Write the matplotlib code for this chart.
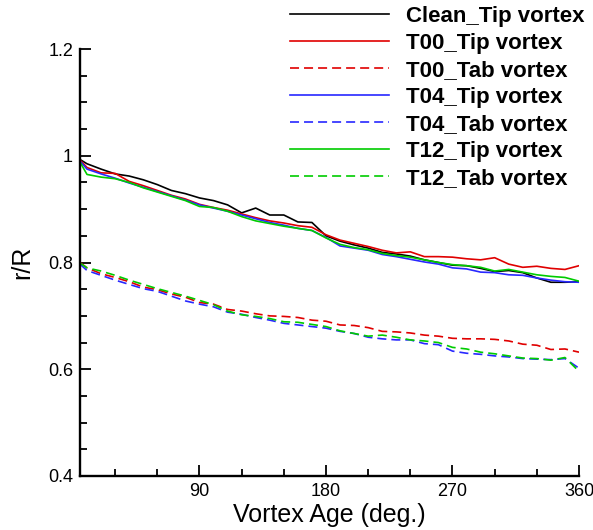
import matplotlib
matplotlib.use('Agg')
import matplotlib.pyplot as plt
from matplotlib.ticker import MultipleLocator, FormatStrFormatter

plt.rcParams['font.family'] = ['Liberation Sans', 'DejaVu Sans']
plt.rcParams['lines.scale_dashes'] = False

# vortex age (deg.)
age = [5, 10, 20, 30, 40, 50, 60, 70, 80, 90, 100, 110, 120, 130, 140, 150, 160, 170, 180,
       190, 200, 210, 220, 230, 240, 250, 260, 270, 280, 290, 300, 310, 320, 330, 340, 350, 360]

clean_tip = [0.993, 0.985, 0.975, 0.966, 0.962, 0.955, 0.946, 0.935, 0.929, 0.921, 0.916, 0.908,
             0.893, 0.902, 0.889, 0.889, 0.876, 0.875, 0.850, 0.840, 0.833, 0.827, 0.819, 0.816,
             0.812, 0.805, 0.800, 0.795, 0.794, 0.789, 0.783, 0.785, 0.781, 0.771, 0.763, 0.763, 0.764]
t00_tip = [0.992, 0.978, 0.968, 0.967, 0.952, 0.944, 0.935, 0.926, 0.919, 0.909, 0.903, 0.898,
           0.891, 0.884, 0.878, 0.874, 0.869, 0.866, 0.852, 0.842, 0.836, 0.830, 0.823, 0.818,
           0.820, 0.811, 0.811, 0.810, 0.807, 0.805, 0.809, 0.797, 0.791, 0.793, 0.789, 0.787, 0.794]
t00_tab = [0.800, 0.790, 0.779, 0.772, 0.764, 0.754, 0.749, 0.741, 0.735, 0.725, 0.722, 0.712,
           0.709, 0.704, 0.700, 0.699, 0.697, 0.692, 0.690, 0.683, 0.682, 0.678, 0.671, 0.670,
           0.668, 0.664, 0.662, 0.658, 0.657, 0.657, 0.656, 0.653, 0.647, 0.645, 0.637, 0.638, 0.632]
t04_tip = [0.990, 0.975, 0.966, 0.958, 0.949, 0.941, 0.933, 0.925, 0.917, 0.908, 0.902, 0.896,
           0.889, 0.882, 0.875, 0.870, 0.864, 0.860, 0.847, 0.831, 0.827, 0.823, 0.815, 0.811,
           0.806, 0.801, 0.797, 0.790, 0.788, 0.782, 0.781, 0.777, 0.776, 0.771, 0.767, 0.764, 0.763]
t04_tab = [0.797, 0.785, 0.776, 0.767, 0.759, 0.751, 0.746, 0.737, 0.728, 0.722, 0.717, 0.707,
           0.703, 0.697, 0.692, 0.686, 0.683, 0.680, 0.677, 0.671, 0.667, 0.660, 0.657, 0.655,
           0.655, 0.648, 0.646, 0.634, 0.630, 0.628, 0.625, 0.623, 0.620, 0.619, 0.618, 0.620, 0.602]
t12_tip = [0.988, 0.965, 0.960, 0.957, 0.950, 0.940, 0.932, 0.924, 0.916, 0.905, 0.903, 0.896,
           0.886, 0.878, 0.873, 0.868, 0.864, 0.860, 0.846, 0.834, 0.828, 0.824, 0.817, 0.813,
           0.810, 0.805, 0.800, 0.796, 0.794, 0.791, 0.784, 0.787, 0.782, 0.777, 0.774, 0.772, 0.765]
t12_tab = [0.799, 0.790, 0.784, 0.776, 0.767, 0.759, 0.751, 0.744, 0.737, 0.729, 0.721, 0.709,
           0.702, 0.699, 0.695, 0.689, 0.688, 0.684, 0.680, 0.672, 0.667, 0.662, 0.664, 0.660,
           0.655, 0.653, 0.650, 0.641, 0.638, 0.632, 0.629, 0.625, 0.621, 0.620, 0.617, 0.622, 0.596]

RED = '#e00000'
BLUE = '#2828ff'
GREEN = '#00cc00'
dash = (0, (6.5, 3.6))

fig = plt.figure(figsize=(5.93, 5.30), dpi=100)
ax = fig.add_axes([0.1349, 0.1019, 0.8415, 0.8056])

lw = 1.2
ax.plot(age, clean_tip, color='black', lw=lw, label='Clean_Tip vortex')
ax.plot(age, t00_tip, color=RED, lw=lw, label='T00_Tip vortex')
ax.plot(age, t00_tab, color=RED, lw=lw, ls=dash, label='T00_Tab vortex')
ax.plot(age, t04_tip, color=BLUE, lw=lw, label='T04_Tip vortex')
ax.plot(age, t04_tab, color=BLUE, lw=lw, ls=dash, label='T04_Tab vortex')
ax.plot(age, t12_tip, color=GREEN, lw=lw, label='T12_Tip vortex')
ax.plot(age, t12_tab, color=GREEN, lw=lw, ls=dash, label='T12_Tab vortex')

ax.set_xlim(5, 360)
ax.set_ylim(0.4, 1.2)
ax.xaxis.set_major_locator(MultipleLocator(90))
ax.xaxis.set_minor_locator(MultipleLocator(30))
ax.yaxis.set_major_locator(MultipleLocator(0.2))
ax.yaxis.set_minor_locator(MultipleLocator(0.05))
ax.yaxis.set_major_formatter(FormatStrFormatter('%g'))

for s in ['top', 'right']:
    ax.spines[s].set_visible(False)
for s in ['left', 'bottom']:
    ax.spines[s].set_linewidth(1.7)

ax.tick_params(which='both', direction='in', width=1.3, labelsize=13, pad=5)
ax.tick_params(which='major', length=8)
ax.tick_params(which='minor', length=5)

ax.set_xlabel('Vortex Age (deg.)', fontsize=18, labelpad=2)
ax.set_ylabel('r/R', fontsize=18, labelpad=10)

fig.legend(loc='upper left', bbox_to_anchor=(290 / 593, 1 - 6 / 530), frameon=False,
           borderpad=0, borderaxespad=0, handlelength=4.45, handletextpad=0.75,
           labelspacing=0.27, prop={'size': 16, 'weight': 'bold'})

fig.savefig('out.png', dpi=100)
